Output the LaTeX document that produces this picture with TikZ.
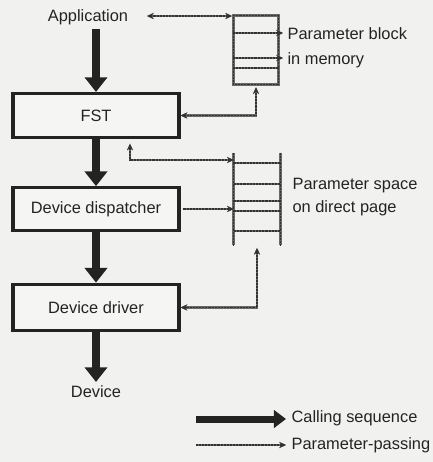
\documentclass[tikz,border=0pt]{standalone}
\usepackage{fontspec}
\setmainfont{Liberation Sans}
\usetikzlibrary{arrows.meta}
\definecolor{bg}{RGB}{241,241,239}
\definecolor{boxfill}{RGB}{245,245,243}
\definecolor{ink}{RGB}{35,35,35}
\definecolor{pline}{RGB}{105,105,105}
\definecolor{pgrain}{RGB}{50,50,50}
\begin{document}
\begin{tikzpicture}[x=0.75pt,y=-0.75pt,
  every node/.style={font=\fontsize{12.3}{14}\selectfont, text=ink},
  stage/.style={draw=ink, fill=boxfill, line width=2.3pt, minimum width=124.5pt, inner sep=0pt},
  call/.style={draw=ink, line width=6pt, -{Triangle[length=11pt,width=16.5pt]}},
  pp/.style={draw=pline, line width=1.9pt,
    postaction={draw=pgrain, line width=0.9pt, dash pattern=on 0.6pt off 0.5pt}},
  pphead/.style={-{Stealth[length=5pt,width=4.5pt]}},
  ppboth/.style={{Stealth[length=5pt,width=4.5pt]}-{Stealth[length=5pt,width=4.5pt]}},
  lbl/.style={anchor=west, align=left, inner sep=1pt}
]
\fill[bg] (0,0) rectangle (433,462);
\useasboundingbox (0,0) rectangle (433,462);

% calling chain
\node (app) at (88,17) {Application};
\node[stage, minimum height=33pt] (fst) at (96,115.5) {FST};
\node[stage, minimum height=32pt] (disp) at (96,209) {Device dispatcher};
\node[stage, minimum height=35pt] (drv) at (96,307.5) {Device driver};
\node (dev) at (96,392) {Device};

\draw[call] (app.south -| fst.north) -- (fst.north);
\draw[call] (fst.south) -- (disp.north);
\draw[call] (disp.south) -- (drv.north);
\draw[call] (drv.south) -- (96,382);

% parameter block in memory
\node[pp, minimum width=34pt, minimum height=52pt, inner sep=0pt] (pb) at (256,50) {};
\draw[pp] (233,68) -- (279,68);
\draw[pp, pphead] (233,33) -- (283,33);
\draw[pp, pphead] (233,58) -- (283,58);
\node[lbl, font=\fontsize{12.3}{18.75}\selectfont] (pbl) at (286,48) {Parameter block\\in memory};

% parameter space on direct page
\node[minimum width=34.5pt, minimum height=69pt, inner sep=0pt] (ps) at (257,199) {};
\draw[pp] (ps.north west) -- (ps.south west);
\draw[pp] (ps.north east) -- (ps.south east);
\foreach \ry in {163,184,201,211,231}
  \draw[pp] (ps.west |- 0,\ry) -- (ps.east |- 0,\ry);
\node[lbl, font=\fontsize{12.3}{17.25}\selectfont] (psl) at (291,197.5) {Parameter space\\on direct page};

% parameter passing
\coordinate (appR) at (147,16);
\draw[pp, ppboth] (appR) -- (appR -| pb.west);
\draw[pp, ppboth, shorten <=1pt] (pb.south) |- (fst.east);
\draw[pp, ppboth, shorten <=3.5pt] (fst.south -| 130,0) |- (ps.west |- 0,160);
\draw[pp, pphead, shorten <=1.5pt] (disp.east) -- (disp.east -| ps.west);
\draw[pp, ppboth, shorten <=2pt] (ps.south) |- (drv.east);

% legend
\node[lbl] (lcall) at (290,418) {Calling sequence};
\node[lbl] (lpp) at (290,445) {Parameter-passing};
\coordinate (lc) at (196,419);
\coordinate (lp) at (196,445);
\draw[draw=ink, line width=5.25pt, -{Triangle[length=9pt,width=13pt]}, shorten >=3pt] (lc) -- (lc -| lcall.west);
\draw[pp, pphead, line width=1.4pt, shorten >=3pt] (lp) -- (lp -| lpp.west);
\end{tikzpicture}
\end{document}
